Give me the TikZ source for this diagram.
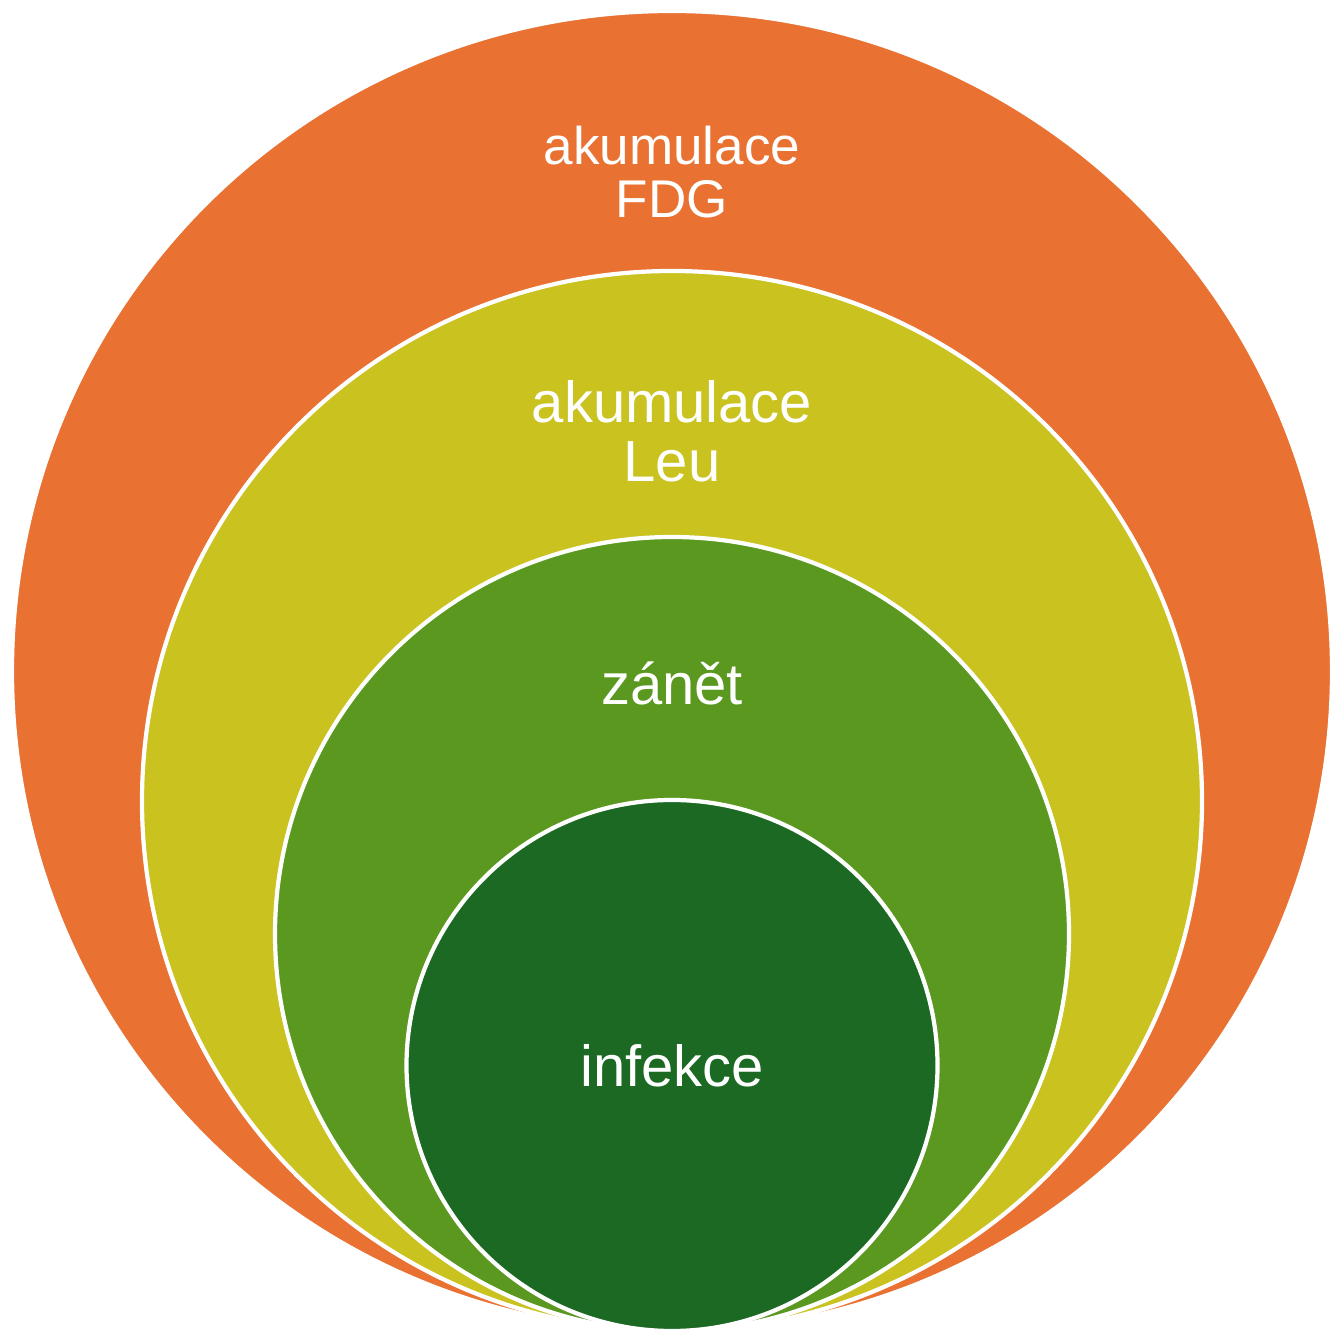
\documentclass[tikz,border=0pt]{standalone}
\usepackage{fontspec}
\setsansfont{Liberation Sans}
\usepackage[svgnames]{xcolor}
\definecolor{White}{HTML}{FFFFFF}
\definecolor{Orange}{HTML}{E97132}
\definecolor{Olive}{HTML}{C9C21F}
\definecolor{Leaf}{HTML}{5A981F}
\definecolor{Forest}{HTML}{1B6923}
\usepackage{tikz}
\tikzset{
  every picture/.style={font={\sffamily}},
  label/.style={text=White, align=center, anchor=base, inner sep=0pt}}

\begin{document}
\begin{tikzpicture}
    \useasboundingbox (0,0) rectangle (13.31,13.31);

    \foreach \r/\col in {6.60/Orange, 5.30/Olive, 3.97/Leaf, 2.655/Forest} {
      \filldraw[fill=\col, draw=White, line width=1.2pt] (6.72, \r) circle[radius=\r];
    }

    \node[label, font={\sffamily\fontsize{15.1}{15.1}\selectfont}] (fdg) at (6.72, 11.13) {akumulace\\FDG};
    \node[label, font={\sffamily\fontsize{16.5}{17}\selectfont}] (leu) at (6.72, 8.49) {akumulace\\Leu};
    \node[label, font={\sffamily\fontsize{16.5}{17}\selectfont}] (zanet) at (6.72, 6.26) {zánět};
    \node[label, font={\sffamily\fontsize{16.5}{17}\selectfont}] (infekce) at (6.72, 2.44) {infekce};
  \end{tikzpicture}
\end{document}
